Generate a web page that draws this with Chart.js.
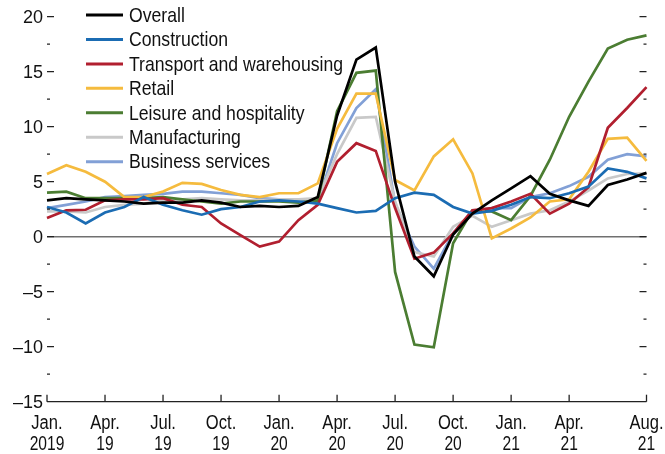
<!DOCTYPE html>
<html>
<head>
<meta charset="utf-8">
<script src="https://cdn.jsdelivr.net/npm/chart.js@4.4.0/dist/chart.umd.min.js"></script>
<style>
  html, body { margin: 0; padding: 0; background: #fff; }
  canvas { display: block; }
</style>
</head>
<body>
<canvas id="BieuDoViecLam" width="665" height="454"></canvas>
<script>
// months Jan 2019 .. Aug 2021
const months = ["Jan19","Feb19","Mar19","Apr19","May19","Jun19","Jul19","Aug19","Sep19","Oct19","Nov19","Dec19",
                "Jan20","Feb20","Mar20","Apr20","May20","Jun20","Jul20","Aug20","Sep20","Oct20","Nov20","Dec20",
                "Jan21","Feb21","Mar21","Apr21","May21","Jun21","Jul21","Aug21"];

const overall       = [3.3, 3.5, 3.4, 3.3, 3.2, 3.0, 3.1, 3.1, 3.3, 3.1, 2.7, 2.8, 2.7, 2.8, 3.6, 11.0, 16.1, 17.2, 5.0, -1.8, -3.6, 0.2, 2.1, 3.3, 4.4, 5.5, 3.9, 3.3, 2.8, 4.7, 5.2, 5.8];
const construction  = [2.7, 2.2, 1.2, 2.2, 2.7, 3.6, 2.9, 2.4, 2.0, 2.5, 2.7, 3.2, 3.3, 3.2, 3.0, 2.6, 2.2, 2.35, 3.5, 4.0, 3.8, 2.7, 2.1, 2.35, 2.9, 3.6, 3.5, 3.95, 4.55, 6.2, 5.9, 5.3];
const transport     = [1.7, 2.4, 2.45, 3.3, 3.4, 3.4, 3.5, 2.9, 2.7, 1.2, 0.15, -0.9, -0.45, 1.5, 2.9, 6.8, 8.5, 7.8, 2.6, -2.0, -1.45, 0.3, 2.4, 2.6, 3.2, 3.9, 2.1, 3.0, 4.5, 9.9, 11.7, 13.6];
const retail        = [5.7, 6.5, 5.9, 5.0, 3.6, 3.6, 4.1, 4.9, 4.8, 4.25, 3.8, 3.6, 3.95, 3.95, 4.85, 9.8, 13.0, 13.0, 5.15, 4.2, 7.3, 8.85, 5.75, -0.15, 0.75, 1.75, 3.2, 3.4, 5.9, 8.9, 9.0, 6.9];
const leisure       = [4.0, 4.1, 3.5, 3.5, 3.5, 3.5, 3.6, 3.4, 3.2, 3.0, 3.2, 3.2, 3.2, 3.1, 3.3, 11.4, 14.9, 15.1, -3.2, -9.8, -10.05, -0.6, 2.4, 2.3, 1.5, 3.7, 7.0, 10.9, 14.1, 17.1, 17.9, 18.3];
const manufacturing = [2.3, 2.3, 2.2, 2.7, 2.9, 3.0, 3.3, 3.4, 3.5, 3.4, 3.3, 3.3, 3.4, 3.4, 3.5, 7.5, 10.8, 10.9, 3.2, -1.4, -1.8, 0.9, 1.9, 0.9, 1.5, 2.1, 2.4, 3.2, 4.2, 5.3, 5.7, 5.75];
const business      = [2.6, 2.9, 3.2, 3.6, 3.7, 3.8, 3.9, 4.1, 4.1, 3.95, 3.8, 3.5, 3.4, 3.3, 3.2, 8.5, 11.7, 13.4, 3.0, -0.9, -2.9, 0.3, 2.3, 2.6, 2.6, 3.6, 3.95, 4.6, 5.45, 7.0, 7.5, 7.3];

const seriesNames  = ["Overall", "Construction", "Transport and warehousing", "Retail", "Leisure and hospitality", "Manufacturing", "Business services"];
const seriesColors = ["#000000", "#1b6cb3", "#b11f2f", "#f5bb3e", "#4b7d32", "#c9c9c9", "#82a0d6"];

// x axis ticks
const xTickIndex  = [0, 3, 6, 9, 12, 15, 18, 21, 24, 27, 31];
const xTickLabels = [["Jan.", "2019"], ["Apr.", "19"], ["Jul.", "19"], ["Oct.", "19"], ["Jan.", "20"], ["Apr.", "20"],
                     ["Jul.", "20"], ["Oct.", "20"], ["Jan.", "21"], ["Apr.", "21"], ["Aug.", "21"]];
// y axis ticks
const yTickValues = [-15, -10, -5, 0, 5, 10, 15, 20];
const yTickLabels = ["\u201315", "\u201310", "\u20135", "0", "5", "10", "15", "20"];
const yMinorStep = 2.5;

// no narrow face installed, so squeeze Liberation Sans sideways
const Y_FONT = "18px 'Liberation Sans', Arial, sans-serif";
const X_FONT = "19.5px 'Liberation Sans', Arial, sans-serif";
const LEGEND_FONT = "21px 'Liberation Sans', Arial, sans-serif";

function chuHep(ctx, text, x, y, sx) {
    ctx.save();
    ctx.translate(x, y);
    ctx.scale(sx, 1);
    ctx.fillText(text, 0, 0);
    ctx.restore();
}

const allSeries = [overall, construction, transport, retail, leisure, manufacturing, business];

let truc = {
    id: 'trucTuyChinh',
    beforeDatasetsDraw(chart) {
        const { ctx, chartArea, scales: { y } } = chart;
        // zero line
        ctx.save();
        ctx.strokeStyle = '#707070';
        ctx.lineWidth = 1.5;
        const y0 = y.getPixelForValue(0);
        ctx.beginPath();
        ctx.moveTo(chartArea.left, y0);
        ctx.lineTo(chartArea.right, y0);
        ctx.stroke();
        ctx.restore();
    },
    afterDraw(chart) {
        const { ctx, chartArea, scales: { x, y } } = chart;
        ctx.save();
        ctx.strokeStyle = '#222';
        ctx.fillStyle = '#111';
        ctx.lineWidth = 1.3;

        // bottom axis
        const yb = y.getPixelForValue(-15);
        ctx.beginPath();
        ctx.moveTo(chartArea.left, yb);
        ctx.lineTo(chartArea.right, yb);
        ctx.stroke();

        // x ticks + labels
        ctx.font = X_FONT;
        ctx.textAlign = 'center';
        ctx.textBaseline = 'alphabetic';
        xTickIndex.forEach((idx, i) => {
            const px = x.getPixelForValue(idx);
            ctx.beginPath();
            ctx.moveTo(px, yb);
            ctx.lineTo(px, yb - 7);
            ctx.stroke();
            chuHep(ctx, xTickLabels[i][0], px, yb + 27, 0.85);
            chuHep(ctx, xTickLabels[i][1], px, yb + 48.5, 0.8);
        });

        // y ticks, both sides, major + minor
        for (let v = -15 + yMinorStep; v <= 20; v += yMinorStep) {
            const py = y.getPixelForValue(v);
            const len = (v % 5 === 0) ? 7 : 3;
            ctx.beginPath();
            ctx.moveTo(chartArea.left, py);
            ctx.lineTo(chartArea.left + len, py);
            ctx.moveTo(chartArea.right, py);
            ctx.lineTo(chartArea.right - len, py);
            ctx.stroke();
        }
        ctx.font = Y_FONT;
        ctx.textAlign = 'right';
        ctx.textBaseline = 'middle';
        yTickValues.forEach((v, i) => {
            chuHep(ctx, yTickLabels[i], chartArea.left - 4, y.getPixelForValue(v) + 1, 1.0);
        });

        // legend
        ctx.font = LEGEND_FONT;
        ctx.textAlign = 'left';
        ctx.lineWidth = 3;
        chart.data.datasets.forEach((ds, i) => {
            const ly = 15 + i * 24.45;
            ctx.strokeStyle = ds.borderColor;
            ctx.beginPath();
            ctx.moveTo(86, ly);
            ctx.lineTo(123, ly);
            ctx.stroke();
            ctx.fillStyle = '#111';
            chuHep(ctx, ds.label, 129, ly + 1, 0.84);
        });
        ctx.restore();
    }
};

let BieuDo = document.getElementById('BieuDoViecLam').getContext('2d');

let chartViecLam = new Chart(BieuDo, {
    type: 'line',
    data: {
        labels: months,
        datasets: allSeries.map((d, i) => ({
            label: seriesNames[i],
            data: d,
            borderColor: seriesColors[i],
            backgroundColor: seriesColors[i],
            borderWidth: 2.7,
            pointRadius: 0,
            tension: 0,
            fill: false
        }))
    },
    options: {
        responsive: false,
        animation: false,
        layout: {
            padding: { left: 47, right: 18.5, top: 16.7, bottom: 52.3 }
        },
        scales: {
            x: { display: false, offset: false },
            y: { display: false, min: -15, max: 20 }
        },
        plugins: {
            legend: { display: false },
            tooltip: { enabled: false }
        }
    },
    plugins: [truc]
});
</script>
</body>
</html>
